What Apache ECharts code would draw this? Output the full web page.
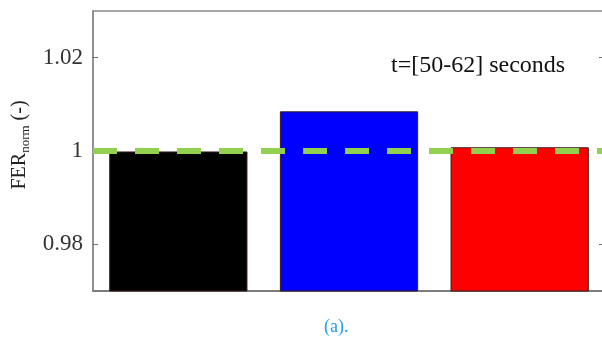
<!DOCTYPE html>
<html>
<head>
<meta charset="utf-8">
<script src="https://cdn.jsdelivr.net/npm/echarts@6/dist/echarts.min.js"></script>
<style>
  html, body { margin: 0; padding: 0; background: #ffffff; }
  #chart { width: 602px; height: 343px; }
</style>
</head>
<body>
<div id="chart"></div>
<script>
// Normalised FER for each case over the window t=[50-62] s
const categories = ['A', 'B', 'C'];
const ferValues = [0.9999, 1.0085, 1.0008];
const barColors = ['#000000', '#0000ff', '#ff0000'];
const yTicks = [0.98, 1, 1.02];
const referenceLevel = 1;

const serif = '"Liberation Serif", "DejaVu Serif", serif';
const chart = echarts.init(document.getElementById('chart'));

chart.setOption({
  animation: false,
  backgroundColor: '#ffffff',
  grid: {
    left: 93, top: 11, width: 512, bottom: 52,
    outerBoundsMode: 'none',
    show: true, borderColor: '#8a8a8a', borderWidth: 1.5, backgroundColor: 'transparent'
  },
  title: [
    {
      text: 't=[50-62] seconds',
      left: 386, top: 49,
      textStyle: { fontFamily: serif, fontSize: 24, fontWeight: 'normal', color: '#111111' }
    },
    {
      text: '(a).',
      left: 319, top: 313,
      textStyle: { fontFamily: serif, fontSize: 18, fontWeight: 'normal', color: '#1e9fe3' }
    }
  ],
  xAxis: {
    type: 'category',
    data: categories,
    axisLine: { show: true, lineStyle: { color: '#707070', width: 1.5 } },
    axisTick: { show: false },
    axisLabel: { show: false },
    splitLine: { show: false }
  },
  yAxis: [
    {
      type: 'value',
      min: 0.97, max: 1.03,
      name: 'FER{sub|norm} (-)',
      nameLocation: 'middle',
      nameGap: 60,
      nameTextStyle: {
        fontFamily: serif, fontSize: 20, color: '#222222',
        padding: [0, 0, 0, 12],
        rich: { sub: { fontFamily: serif, fontSize: 13, color: '#222222', verticalAlign: 'bottom', padding: [12, 0, 0, 0] } }
      },
      axisLine: { show: true, lineStyle: { color: '#8a8a8a', width: 1.5 } },
      axisTick: { show: true, inside: true, length: 5, customValues: yTicks, lineStyle: { color: '#707070' } },
      axisLabel: {
        customValues: yTicks, margin: 10,
        fontFamily: serif, fontSize: 23, color: '#333333',
        formatter: v => String(+v.toFixed(2))
      },
      splitLine: { show: false }
    },
    {
      type: 'value',
      position: 'right',
      min: 0.97, max: 1.03,
      axisLine: { show: true, lineStyle: { color: '#8a8a8a', width: 1.5 } },
      axisTick: { show: true, inside: true, length: 6, customValues: yTicks, lineStyle: { color: '#707070' } },
      axisLabel: { show: false },
      splitLine: { show: false }
    }
  ],
  series: [
    {
      type: 'bar',
      data: ferValues.map((v, i) => ({ value: v, itemStyle: { color: barColors[i] } })),
      barCategoryGap: '19%',
      itemStyle: { borderColor: '#3a1a1a', borderWidth: 1 },
      markLine: {
        silent: true,
        symbol: 'none',
        label: { show: false },
        lineStyle: { color: '#92d050', width: 6, type: [24, 18] },
        data: [{ yAxis: referenceLevel }]
      }
    }
  ]
});
</script>
</body>
</html>
